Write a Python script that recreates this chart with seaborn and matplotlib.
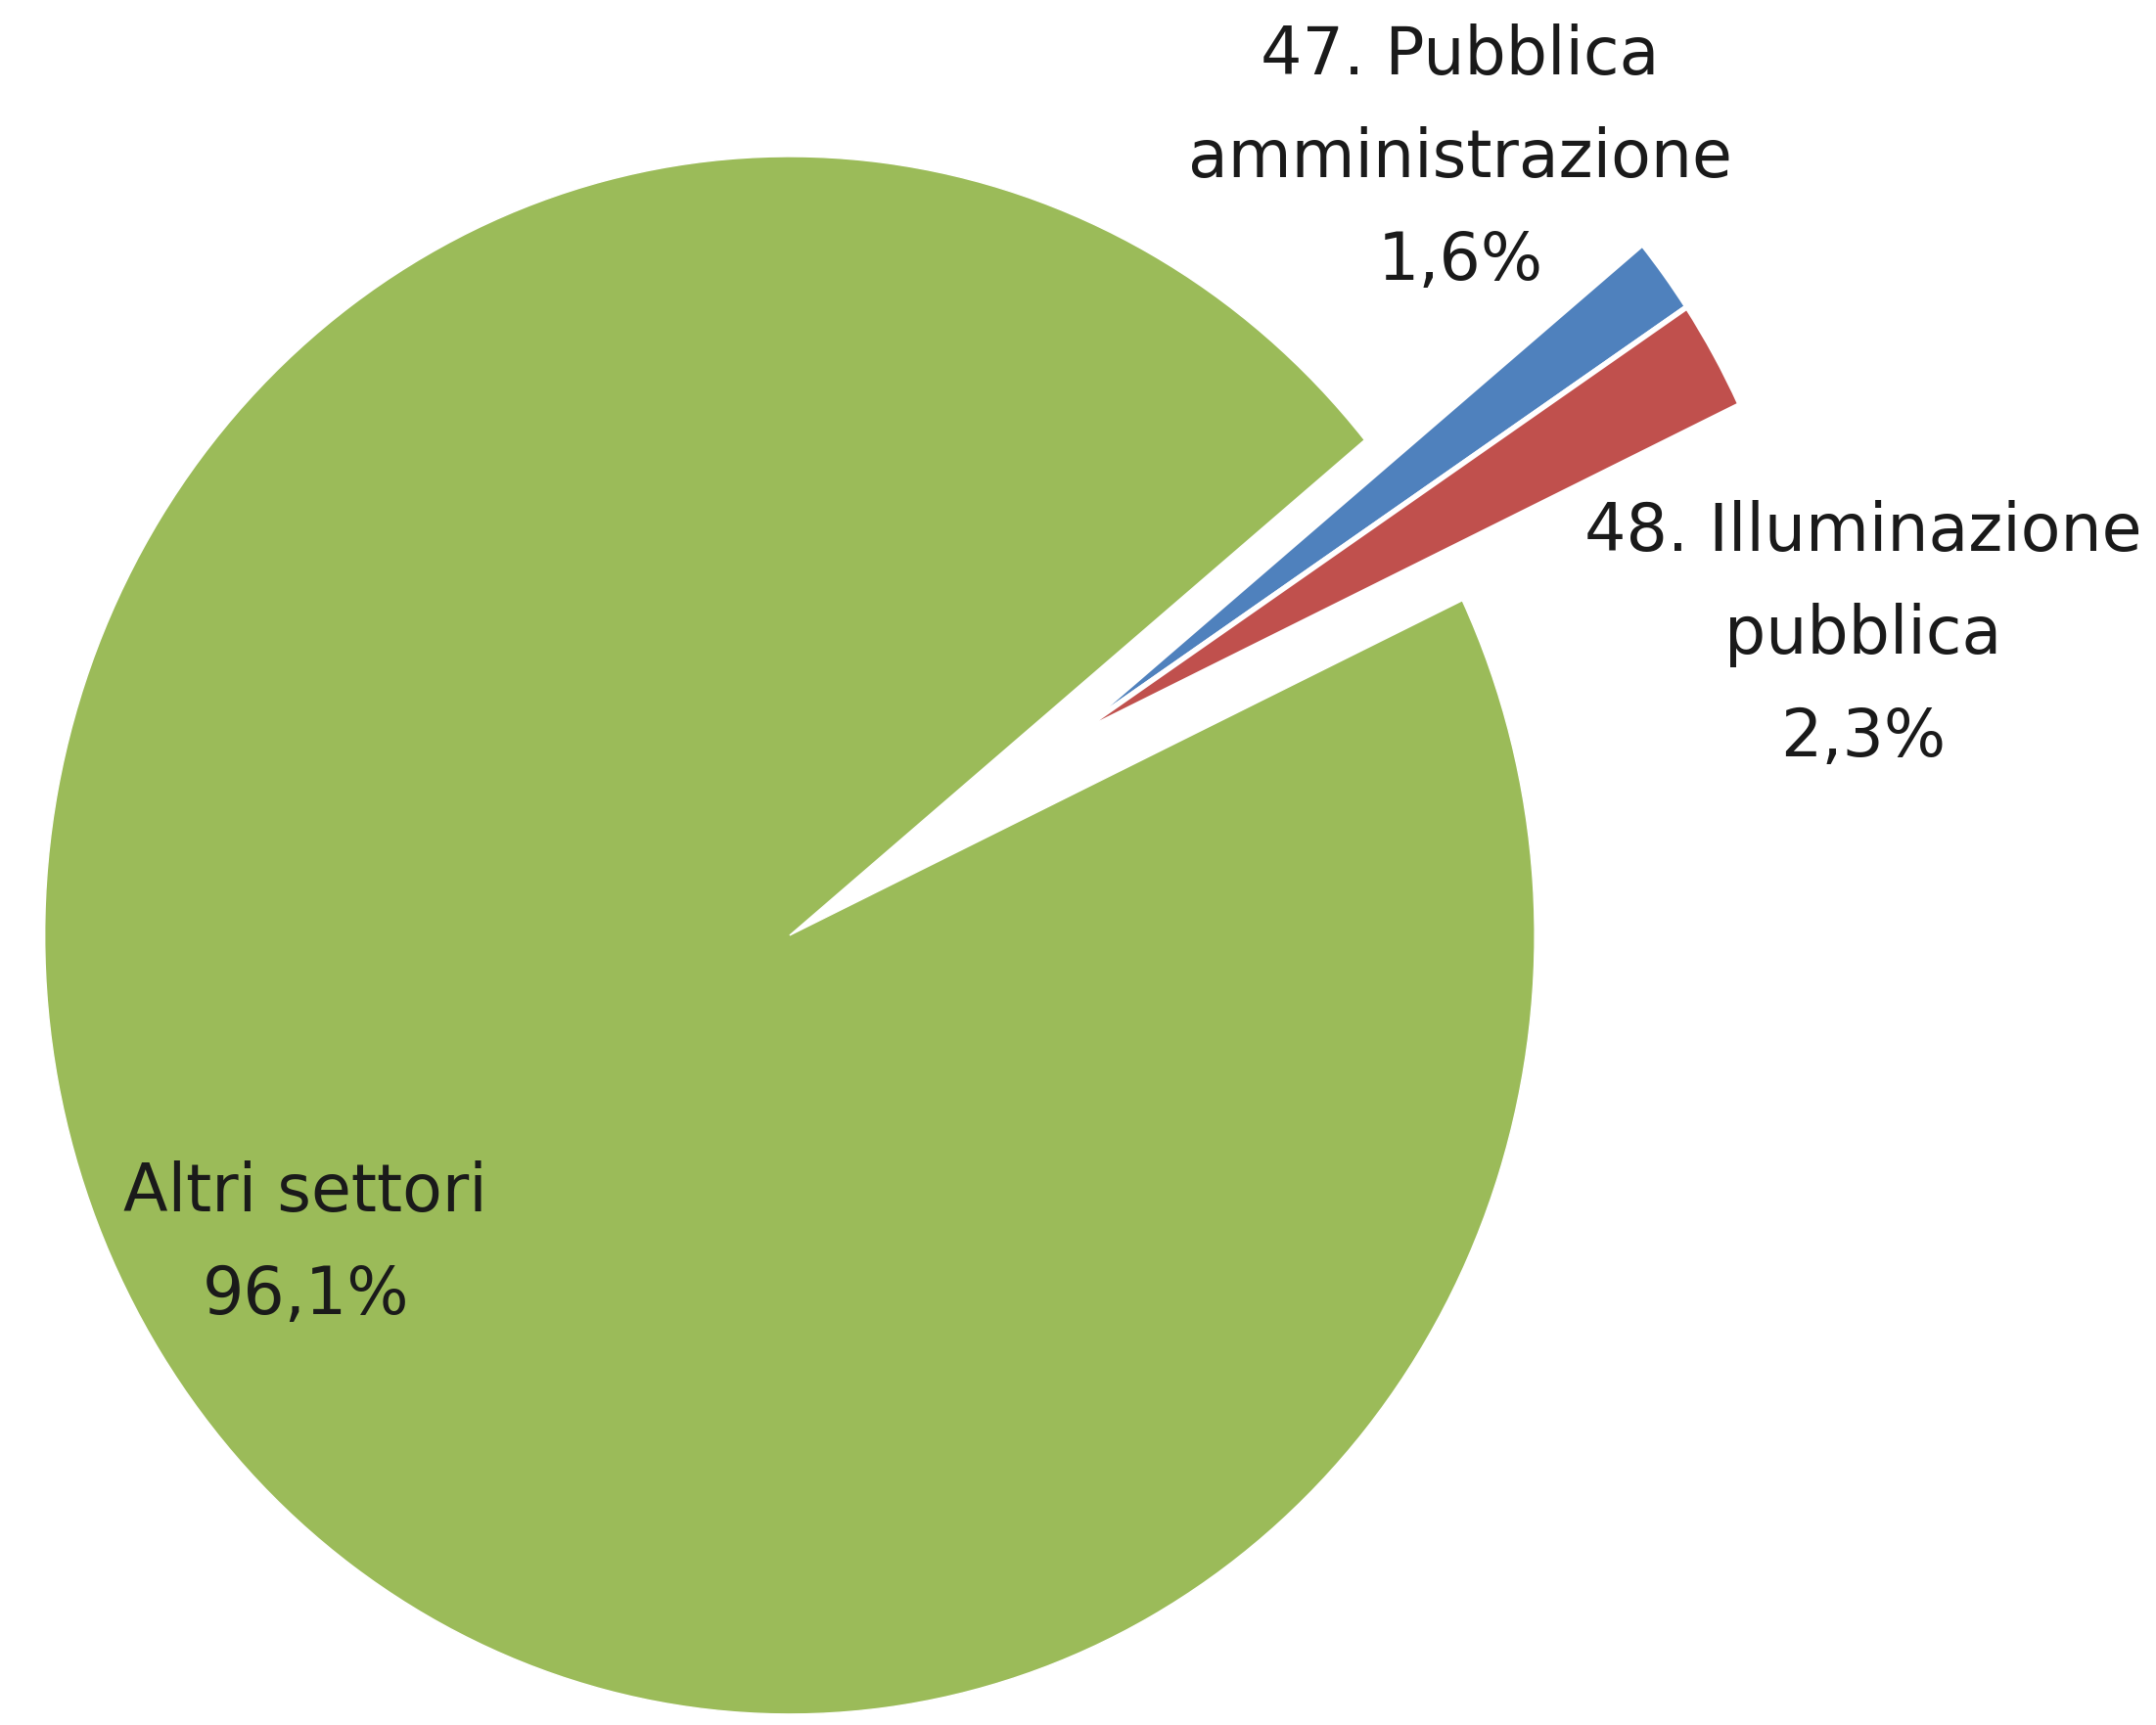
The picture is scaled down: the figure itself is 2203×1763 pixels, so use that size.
import numpy as np
import matplotlib
matplotlib.use("Agg")
import matplotlib.pyplot as plt
import seaborn as sns

# dati
settori = ['47. Pubblica\namministrazione', '48. Illuminazione\npubblica', 'Altri settori']
quote = [1.6, 2.3, 96.1]
etichette_pct = ['1,6%', '2,3%', '96,1%']
colori = ['#4F81BD', '#C0504D', '#9BBB59']

sns.set_theme(style='white')
plt.rcParams['font.family'] = ['DejaVu Sans']

fig = plt.figure(figsize=(22.03, 17.63), dpi=100)
ax = fig.add_axes([0, 0, 1, 1])

start = 39.5
# spostamento delle due fette staccate (insieme)
dist, ang = 0.45, np.deg2rad(34.0)
centro_stacco = (dist * np.cos(ang), dist * np.sin(ang))

# torta principale: solo "Altri settori"
w1, _ = ax.pie(quote, colors=colori, startangle=start, counterclock=False)
for w in w1[:2]:
    w.remove()

# fette staccate
w2, _ = ax.pie(quote, colors=colori, startangle=start, counterclock=False,
               center=centro_stacco,
               wedgeprops=dict(edgecolor='white', linewidth=4))
w2[2].remove()

ax.set_aspect('auto')
ax.set_xlim(-1.060, 1.834)
ax.set_ylim(-1.014, 1.201)
ax.axis('off')

# etichette
pos_etichette = [(0.900, 0.997), (1.441, 0.386), (-0.650, -0.397)]
for nome, pct, (x, y) in zip(settori, etichette_pct, pos_etichette):
    ax.text(x, y, f'{nome}\n{pct}', ha='center', va='center', fontsize=48,
            color='#1a1a1a', linespacing=1.75)

fig.savefig('out.png', dpi=100)
